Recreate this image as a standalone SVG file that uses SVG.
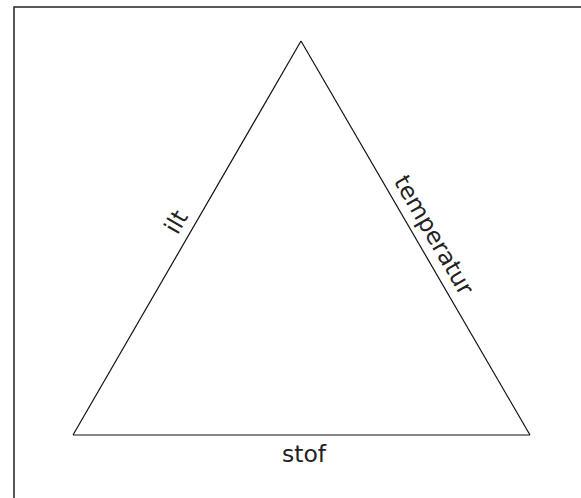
<svg xmlns="http://www.w3.org/2000/svg" width="581" height="498" viewBox="0 0 581 498">
<style>
.lbl{font-family:"DejaVu Sans",Verdana,sans-serif;font-size:23.5px;fill:#222;text-anchor:middle}
.edge{stroke:#111;stroke-width:1.2;fill:none}
</style>
<rect x="0" y="0" width="581" height="498" fill="#fff"/>
<rect x="14" y="7" width="580" height="500" fill="none" stroke="#222" stroke-width="1.5"/>
<g id="connectors">
<line class="edge" x1="301" y1="41" x2="73" y2="435"/>
<line class="edge" x1="301" y1="41" x2="530" y2="435"/>
<line class="edge" x1="73" y1="435" x2="530" y2="435"/>
</g>
<g id="labels">
<text id="ilt" class="lbl" transform="translate(183,226) rotate(-59.9)">ilt</text>
<text id="temperatur" class="lbl" transform="translate(427,239) rotate(59.8)">temperatur</text>
<text id="stof" class="lbl" x="304" y="462">stof</text>
</g>
</svg>
